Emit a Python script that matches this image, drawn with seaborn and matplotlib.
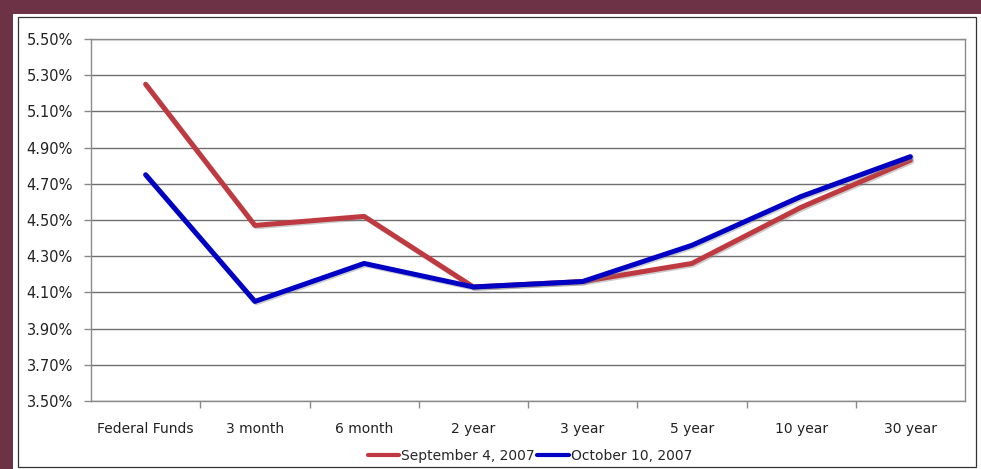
import matplotlib
matplotlib.use("Agg")
import matplotlib.pyplot as plt
import matplotlib.patheffects as pe
from matplotlib.patches import Rectangle
from matplotlib.ticker import FuncFormatter, FixedLocator
import seaborn as sns
import pandas as pd

categories = ["Federal Funds", "3 month", "6 month", "2 year", "3 year", "5 year", "10 year", "30 year"]
sep_2007 = [5.25, 4.47, 4.52, 4.13, 4.16, 4.26, 4.57, 4.83]
oct_2007 = [4.75, 4.05, 4.26, 4.13, 4.16, 4.36, 4.63, 4.85]
series_names = ["September 4, 2007", "October 10, 2007"]
colors = ["#BF3A40", "#0000C4"]

df = pd.concat([
    pd.DataFrame({"cat": categories, "rate": sep_2007, "series": series_names[0]}),
    pd.DataFrame({"cat": categories, "rate": oct_2007, "series": series_names[1]}),
])

sns.set_theme(style="white")
plt.rcParams["font.family"] = ["DejaVu Sans"]

W, H = 981, 469
fig = plt.figure(figsize=(W / 100, H / 100), dpi=100)
fig.patch.set_facecolor("white")

# maroon frame + inner border
fig.add_artist(Rectangle((0, 0), 13 / W, 1, transform=fig.transFigure, color="#6E3246", lw=0, zorder=0))
fig.add_artist(Rectangle((0, 1 - 14 / H), 1, 14 / H, transform=fig.transFigure, color="#6E3246", lw=0, zorder=0))
fig.add_artist(Rectangle((18 / W, 2 / H), (976 - 18) / W, (450) / H, transform=fig.transFigure,
                         fill=False, edgecolor="#333333", lw=0.9, zorder=1))

ax = fig.add_axes([91 / W, (H - 401) / H, (965 - 91) / W, (401 - 39) / H])
ax.set_facecolor("white")

sns.lineplot(data=df, x="cat", y="rate", hue="series", palette=colors, sort=False,
             linewidth=3.6, ax=ax, legend=True, solid_joinstyle="round", solid_capstyle="round",
             path_effects=[pe.SimpleLineShadow(offset=(1, -1), shadow_color="gray", alpha=0.4), pe.Normal()])

ax.set_ylim(3.5, 5.5)
ax.set_xlim(-0.5, len(categories) - 0.5)
yt = [3.5 + 0.2 * i for i in range(11)]
ax.set_yticks(yt)
ax.yaxis.set_major_formatter(FuncFormatter(lambda v, p: f"{v:.2f}%"))
ax.grid(axis="y", color="#6f6f6f", lw=1.0)
ax.set_axisbelow(True)
ax.set_xlabel("")
ax.set_ylabel("")
for s in ["left", "right", "bottom", "top"]:
    ax.spines[s].set_visible(True)
    ax.spines[s].set_color("#8a8a8a")
    ax.spines[s].set_linewidth(1.0)

ax.tick_params(axis="y", which="major", left=True, length=5, width=1, color="#8a8a8a", labelsize=10.5, pad=8, labelcolor="#222222")
ax.tick_params(axis="x", which="major", bottom=False, labelsize=10, pad=9, labelcolor="#222222")
ax.xaxis.set_minor_locator(FixedLocator([i + 0.5 for i in range(len(categories) - 1)]))
ax.tick_params(axis="x", which="minor", bottom=True, length=5, width=1, color="#8a8a8a")

handles, labels = ax.get_legend_handles_labels()
ax.get_legend().remove()
for h in handles:
    h.set_path_effects([])
    h.set_linewidth(3.0)
fig.legend(handles, labels, loc="center", bbox_to_anchor=(0.54, (H - 456) / H), ncol=2, frameon=False,
           fontsize=10, handlelength=2.3, handletextpad=0.1, columnspacing=0.2, borderaxespad=0)

fig.savefig("out.png", dpi=100, facecolor="white")
